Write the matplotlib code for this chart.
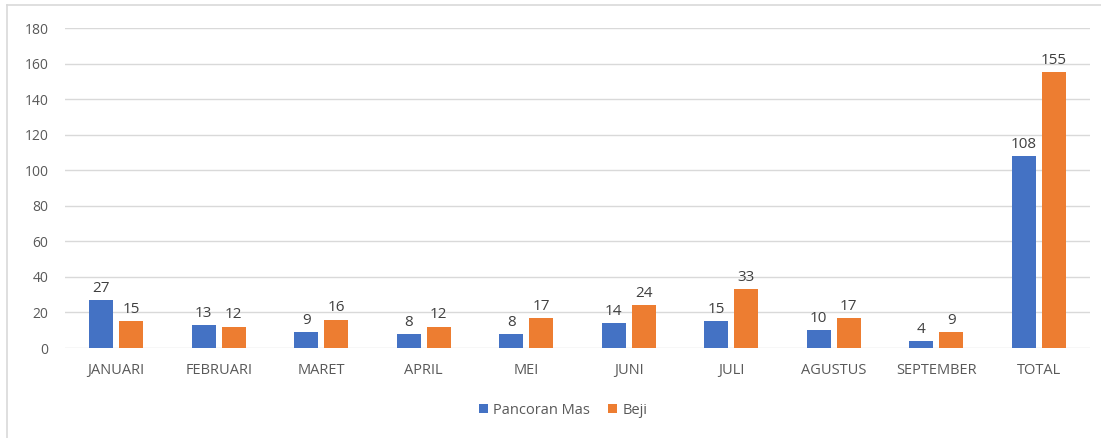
import numpy as np
import matplotlib.pyplot as plt
from matplotlib.lines import Line2D

# monthly counts per kecamatan
bulan = ['JANUARI', 'FEBRUARI', 'MARET', 'APRIL', 'MEI', 'JUNI',
         'JULI', 'AGUSTUS', 'SEPTEMBER', 'TOTAL']
pancoran_mas = [27, 13, 9, 8, 8, 14, 15, 10, 4, 108]
beji = [15, 12, 16, 12, 17, 24, 33, 17, 9, 155]
yticks = [0, 20, 40, 60, 80, 100, 120, 140, 160, 180]

W, H = 1101, 438
fig = plt.figure(figsize=(W / 100, H / 100), dpi=100)
plt.rcParams['font.family'] = ['Open Sans', 'DejaVu Sans']

ax = fig.add_axes([65 / W, (H - 348) / H, (1090 - 65) / W, 320 / H])

x = np.arange(len(bulan))
bw = 0.234
off = 0.147
b1 = ax.bar(x - off, pancoran_mas, bw, color='#4472C4', label='Pancoran Mas', zorder=3)
b2 = ax.bar(x + off, beji, bw, color='#ED7D31', label='Beji', zorder=3)

for bars, vals in ((b1, pancoran_mas), (b2, beji)):
    for r, v in zip(bars, vals):
        ax.annotate(str(v), (r.get_x() + r.get_width() / 2, v),
                    xytext=(0, 3), textcoords='offset points',
                    ha='center', va='bottom', fontsize=11, color='#404040')

ax.set_xlim(-0.5, len(bulan) - 0.5)
ax.set_ylim(0, 180)
ax.set_yticks(yticks)
ax.set_xticks(x)
ax.set_xticklabels(bulan)
ax.tick_params(length=0, colors='#595959')
ax.tick_params(axis='x', pad=11, labelsize=10.5)
ax.tick_params(axis='y', pad=12, labelsize=10)
ax.grid(axis='y', color='#D9D9D9', linewidth=1, zorder=0)
for s in ax.spines.values():
    s.set_visible(False)

fig.legend(handles=[b1, b2], loc='center', bbox_to_anchor=(563 / W, (H - 410) / H),
           ncol=2, frameon=False, fontsize=10.5, handlelength=0.6, handleheight=0.6,
           columnspacing=1.2, handletextpad=0.4, labelcolor='#595959')

# outer chart border (cropped screenshot)
fig.add_artist(Line2D([7 / W, 7 / W], [0, (H - 5) / H], color='#D9D9D9', lw=1.2))
fig.add_artist(Line2D([7 / W, 1], [(H - 5) / H, (H - 5) / H], color='#D9D9D9', lw=1.2))

fig.savefig('out.png', dpi=100)
